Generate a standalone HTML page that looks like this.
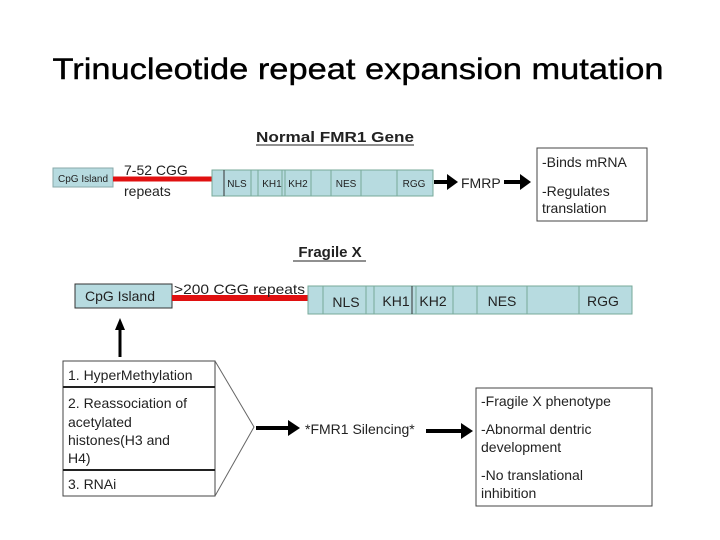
<!DOCTYPE html>
<html><head><meta charset="utf-8"><style>
html,body{margin:0;padding:0;background:#fff;}
svg{display:block;}
text{font-family:"Liberation Sans",sans-serif;fill:#222;}
</style></head><body>
<svg width="720" height="540" viewBox="0 0 720 540">
<text x="358" y="79" text-anchor="middle" font-size="30" textLength="611" lengthAdjust="spacingAndGlyphs" style="fill:#000;stroke:#000;stroke-width:0.4">Trinucleotide repeat expansion mutation</text>

<!-- Normal -->
<text x="335" y="142" text-anchor="middle" font-size="15" font-weight="bold" textLength="158" lengthAdjust="spacingAndGlyphs">Normal FMR1 Gene</text>
<line x1="256" y1="145" x2="414" y2="145" stroke="#222" stroke-width="1"/>
<rect x="53" y="168" width="60" height="19" fill="#b7dbe0" stroke="#8aa" stroke-width="1"/>
<text x="83" y="182" text-anchor="middle" font-size="10">CpG Island</text>
<line x1="113" y1="179" x2="212" y2="179" stroke="#e01010" stroke-width="5"/>
<text x="124" y="175" font-size="14">7-52 CGG</text>
<text x="124" y="196" font-size="14">repeats</text>
<rect x="212" y="170" width="221" height="26" fill="#b7dbe0" stroke="#7a9" stroke-width="1"/>
<g stroke="#7a9" stroke-width="1">
<line x1="224" y1="170" x2="224" y2="196" stroke="#333"/><line x1="251" y1="170" x2="251" y2="196"/><line x1="258" y1="170" x2="258" y2="196"/>
<line x1="282" y1="170" x2="282" y2="196"/><line x1="285" y1="170" x2="285" y2="196"/><line x1="311" y1="170" x2="311" y2="196"/>
<line x1="331" y1="170" x2="331" y2="196"/><line x1="361" y1="170" x2="361" y2="196"/><line x1="397" y1="170" x2="397" y2="196"/>
</g>
<g font-size="10" text-anchor="middle" style="fill:#555">
<text x="237" y="187">NLS</text><text x="272" y="187">KH1</text><text x="298" y="187">KH2</text><text x="346" y="187">NES</text><text x="414" y="187">RGG</text>
</g>
<path d="M434,180 h13 v-6 l11,8 l-11,8 v-6 h-13 z" fill="#000"/>
<text x="461" y="188" font-size="14">FMRP</text>
<path d="M504,180 h16 v-6 l11,8 l-11,8 v-6 h-16 z" fill="#000"/>
<rect x="537" y="148" width="110" height="73" fill="#fff" stroke="#444" stroke-width="1"/>
<text x="542" y="167" font-size="14">-Binds mRNA</text>
<text x="542" y="196" font-size="14">-Regulates</text>
<text x="542" y="213" font-size="14">translation</text>

<!-- Fragile -->
<text x="330" y="257" text-anchor="middle" font-size="15" font-weight="bold">Fragile X</text>
<line x1="293" y1="261" x2="366" y2="261" stroke="#222" stroke-width="1"/>
<rect x="75" y="284" width="97" height="24" fill="#b7dbe0" stroke="#333" stroke-width="1"/>
<text x="120" y="301" text-anchor="middle" font-size="14">CpG Island</text>
<line x1="172" y1="298" x2="308" y2="298" stroke="#e01010" stroke-width="6"/>
<text x="174" y="294" font-size="14" textLength="131" lengthAdjust="spacingAndGlyphs">&gt;200 CGG repeats</text>
<rect x="308" y="286" width="324" height="28" fill="#b7dbe0" stroke="#7a9" stroke-width="1"/>
<g stroke="#7a9" stroke-width="1">
<line x1="323" y1="286" x2="323" y2="314"/><line x1="366" y1="286" x2="366" y2="314"/><line x1="374" y1="286" x2="374" y2="314"/>
<line x1="412" y1="286" x2="412" y2="314" stroke="#333"/><line x1="416" y1="286" x2="416" y2="314"/><line x1="453" y1="286" x2="453" y2="314"/>
<line x1="477" y1="286" x2="477" y2="314"/><line x1="527" y1="286" x2="527" y2="314"/><line x1="579" y1="286" x2="579" y2="314"/>
</g>
<g font-size="14" text-anchor="middle">
<text x="346" y="307">NLS</text><text x="396" y="306">KH1</text><text x="433" y="306">KH2</text><text x="502" y="306">NES</text><text x="603" y="306">RGG</text>
</g>
<line x1="120" y1="357" x2="120" y2="328" stroke="#000" stroke-width="3"/>
<path d="M115,330 l5,-12 l5,12 z" fill="#000"/>

<rect x="63" y="361" width="152" height="135" fill="#fff" stroke="#444" stroke-width="1"/>
<line x1="63" y1="387" x2="215" y2="387" stroke="#222" stroke-width="2"/>
<line x1="63" y1="470" x2="215" y2="470" stroke="#222" stroke-width="2"/>
<g font-size="14">
<text x="68" y="380">1. HyperMethylation</text>
<text x="68" y="408">2. Reassociation of</text>
<text x="68" y="427">acetylated</text>
<text x="68" y="445">histones(H3 and</text>
<text x="68" y="463">H4)</text>
<text x="68" y="489">3. RNAi</text>
</g>
<polyline points="215,361 254,427 215,496" fill="none" stroke="#666" stroke-width="1"/>
<path d="M256,426 h32 v-6 l12,8 l-12,8 v-6 h-32 z" fill="#000"/>
<text x="305" y="434" font-size="14">*FMR1 Silencing*</text>
<path d="M426,429 h35 v-6 l12,8 l-12,8 v-6 h-35 z" fill="#000"/>
<rect x="476" y="388" width="176" height="118" fill="#fff" stroke="#444" stroke-width="1"/>
<g font-size="14">
<text x="481" y="406">-Fragile X phenotype</text>
<text x="481" y="434">-Abnormal dentric</text>
<text x="481" y="452">development</text>
<text x="481" y="480">-No translational</text>
<text x="481" y="498">inhibition</text>
</g>
</svg>
</body></html>
